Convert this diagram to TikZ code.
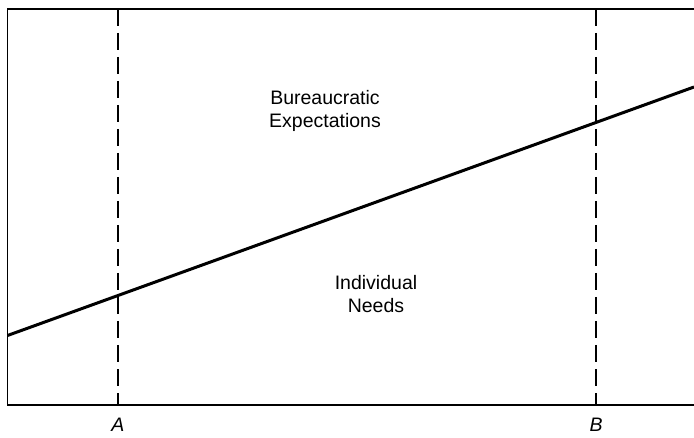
\documentclass[tikz,border=0pt]{standalone}
\usepackage{fontspec}
\setmainfont{Liberation Sans}
\begin{document}
\begin{tikzpicture}[x=1pt,y=1pt,
  frame/.style={line width=1.6pt},
  guide/.style={line width=1.4pt, dash pattern=on 17pt off 7pt},
  trend/.style={line width=3pt},
  lbl/.style={font=\fontsize{19.5}{23}\selectfont, align=center, inner sep=0pt},
  axlbl/.style={font=\fontsize{19.5}{23}\selectfont\itshape, inner sep=0pt}]
\useasboundingbox (0,0) rectangle (694,437);
% frame corners (y = 437 - pixel row)
\coordinate (tl) at (7.5,428);
\coordinate (tr) at (694,428);
\coordinate (bl) at (7.5,32);
\coordinate (br) at (694,32);
\draw[frame] (tr) -- (tl) -- (bl) -- (br);
% dashed guides
\coordinate (Atop) at (118,428);
\coordinate (Abot) at (118,32);
\coordinate (Btop) at (596,428);
\coordinate (Bbot) at (596,32);
\draw[guide] (Atop) -- (Abot);
\draw[guide] (Btop) -- (Bbot);
% trend line
\coordinate (ls) at (7.5,101.5);
\coordinate (le) at (694,350);
\draw[trend] (ls) -- (le);
% labels
\node[lbl] (be) at (325,326) {Bureaucratic\\Expectations};
\node[lbl] (in) at (376,143) {Individual\\Needs};
\node[axlbl] (la) at (118,12) {A};
\node[axlbl] (lb) at (596,12) {B};
\end{tikzpicture}
\end{document}
